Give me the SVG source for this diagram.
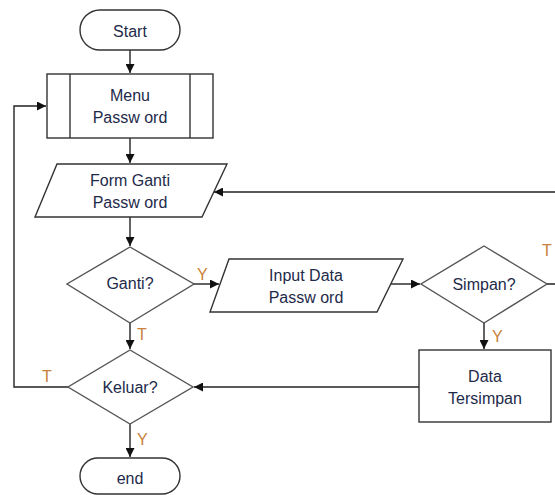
<svg xmlns="http://www.w3.org/2000/svg" width="555" height="495" viewBox="0 0 555 495">
<defs>
<marker id="arr" viewBox="0 0 10 10" refX="10" refY="5" markerWidth="9" markerHeight="9" markerUnits="userSpaceOnUse" orient="auto">
<path d="M0,0 L10,5 L0,10 z" fill="#111"/>
</marker>
</defs>
<style>
.s{fill:#fff;stroke:#333;stroke-width:1.4}
.d{fill:#fff;stroke:#555;stroke-width:1.4}
.t{font-family:"Liberation Sans",Arial,sans-serif;font-size:16px;fill:#1e2a4a;text-anchor:middle}
.l{font-family:"Liberation Sans",Arial,sans-serif;font-size:16px;fill:#c8803a}
.c{fill:none;stroke:#222;stroke-width:1.4}
</style>
<rect width="555" height="495" fill="#fff"/>
<g id="connectors">
<path class="c" d="M130,50 V73" marker-end="url(#arr)"/>
<path class="c" d="M130,138 V163" marker-end="url(#arr)"/>
<path class="c" d="M130,217 V246" marker-end="url(#arr)"/>
<path class="c" d="M194,284 H219" marker-end="url(#arr)"/>
<path class="c" d="M391,284 H420" marker-end="url(#arr)"/>
<path class="c" d="M547,284 H562 V192 H214" marker-end="url(#arr)"/>
<path class="c" d="M484,323 V349" marker-end="url(#arr)"/>
<path class="c" d="M419,387 H194" marker-end="url(#arr)"/>
<path class="c" d="M130,323 V349" marker-end="url(#arr)"/>
<path class="c" d="M68,387 H14 V106 H46" marker-end="url(#arr)"/>
<path class="c" d="M130,424 V457" marker-end="url(#arr)"/>
<text class="l" x="197" y="280">Y</text>
<text class="l" x="137" y="340">T</text>
<text class="l" x="542" y="256">T</text>
<text class="l" x="492" y="342">Y</text>
<text class="l" x="42" y="382">T</text>
<text class="l" x="137" y="445">Y</text>
</g>
<g id="start">
<rect class="s" x="80" y="10" width="100" height="40" rx="20"/>
<text class="t" x="130" y="37">Start</text>
</g>
<g id="menu">
<rect class="s" x="47" y="74" width="166" height="64"/>
<line class="s" x1="70" y1="74" x2="70" y2="138"/>
<line class="s" x1="190" y1="74" x2="190" y2="138"/>
<text class="t" x="130" y="101">Menu</text>
<text class="t" x="130" y="123">Passw ord</text>
</g>
<g id="form">
<polygon class="s" points="57,164 227,164 202,217 35,217"/>
<text class="t" x="130" y="186">Form Ganti</text>
<text class="t" x="130" y="208">Passw ord</text>
</g>
<g id="ganti">
<polygon class="d" points="130,247 194,284 130,323 67,284"/>
<text class="t" x="130" y="289">Ganti?</text>
</g>
<g id="input">
<polygon class="s" points="229,259 403,259 377,312 210,312"/>
<text class="t" x="306" y="281">Input Data</text>
<text class="t" x="306" y="303">Passw ord</text>
</g>
<g id="simpan">
<polygon class="d" points="484,246 547,284 484,323 421,284"/>
<text class="t" x="484" y="290">Simpan?</text>
</g>
<g id="data">
<rect class="s" x="419" y="350" width="132" height="72"/>
<text class="t" x="485" y="382">Data</text>
<text class="t" x="485" y="404">Tersimpan</text>
</g>
<g id="keluar">
<polygon class="d" points="130,350 193,387 130,424 68,387"/>
<text class="t" x="130" y="393">Keluar?</text>
</g>
<g id="end">
<rect class="s" x="80" y="458" width="100" height="36" rx="18"/>
<text class="t" x="130" y="484">end</text>
</g>
</svg>
